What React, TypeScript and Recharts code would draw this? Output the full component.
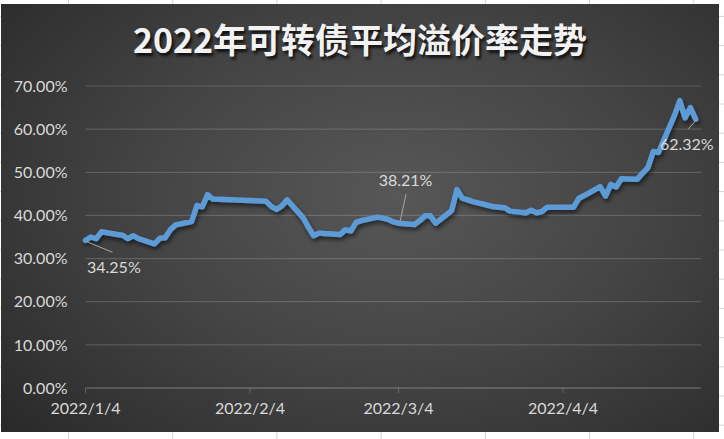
import { LineChart, Line, XAxis, YAxis, CartesianGrid, LabelList } from 'recharts'

// trading days, 2022
const dates = [
  '2022/1/4', '2022/1/5', '2022/1/6', '2022/1/7', '2022/1/10', '2022/1/11', '2022/1/12', '2022/1/13', '2022/1/14',
  '2022/1/17', '2022/1/18', '2022/1/19', '2022/1/20', '2022/1/21', '2022/1/24', '2022/1/25', '2022/1/26', '2022/1/27',
  '2022/1/28', '2022/2/7', '2022/2/8', '2022/2/9', '2022/2/10', '2022/2/11', '2022/2/14', '2022/2/15', '2022/2/16',
  '2022/2/17', '2022/2/18', '2022/2/21', '2022/2/22', '2022/2/23', '2022/2/24', '2022/2/25', '2022/2/28', '2022/3/1',
  '2022/3/2', '2022/3/3', '2022/3/4', '2022/3/7', '2022/3/8', '2022/3/9', '2022/3/10', '2022/3/11', '2022/3/14',
  '2022/3/15', '2022/3/16', '2022/3/17', '2022/3/18', '2022/3/21', '2022/3/22', '2022/3/23', '2022/3/24', '2022/3/25',
  '2022/3/28', '2022/3/29', '2022/3/30', '2022/3/31', '2022/4/1', '2022/4/6', '2022/4/7', '2022/4/8', '2022/4/11',
  '2022/4/12', '2022/4/13', '2022/4/14', '2022/4/15', '2022/4/18', '2022/4/19', '2022/4/20', '2022/4/21', '2022/4/22',
  '2022/4/25', '2022/4/26', '2022/4/27', '2022/4/28', '2022/4/29',
]

// average premium, %
const premium = [
  34.25, 35.0, 34.6, 36.2, 35.6, 35.4, 34.6, 35.3, 34.6,
  33.4, 34.7, 34.8, 36.7, 37.8, 38.6, 42.3, 42.0, 44.8,
  43.8, 43.3, 42.1, 41.4, 42.2, 43.6, 39.5, 37.3, 35.3,
  35.9, 35.8, 35.6, 36.7, 36.4, 38.4, 38.8, 39.6, 39.4,
  39.1, 38.5, 38.21, 37.9, 38.8, 39.9, 39.9, 38.2, 41.1,
  46.0, 44.0, 43.6, 43.2, 42.3, 42.0, 41.9, 41.8, 41.0,
  40.6, 41.2, 40.6, 40.9, 41.9, 41.9, 44.0, 44.6, 46.7,
  44.5, 47.2, 46.6, 48.5, 48.4, 49.8, 51.1, 54.8, 54.6,
  63.2, 66.6, 62.6, 65.0, 62.32,
]

const xTickDates = ['2022/1/4', '2022/2/4', '2022/3/4', '2022/4/4']
const yTicks = [0, 10, 20, 30, 40, 50, 60, 70]
const axisEndDate = '2022/4/30'

const START = Date.UTC(2022, 0, 4)
const toDay = (s: string) => {
  const [y, m, d] = s.split('/').map(Number)
  return Math.round((Date.UTC(y, m - 1, d) - START) / 86400000)
}

const data = dates.map((d, i) => ({ day: toDay(d), date: d, value: premium[i] }))
const xTicks = xTickDates.map(toDay)
const tickLabel: Record<number, string> = {}
xTickDates.forEach((d) => (tickLabel[toDay(d)] = d))

const labelColor = '#d9d9d9'
const leaderColor = '#a6a6a6'
const font = 'Lato, "Noto Sans", sans-serif'

// which points carry a data label, and where the label sits relative to the point
const labelPlacement: Record<string, { dx: number; dy: number; anchor: string; lx1: number; ly1: number; lx2: number; ly2: number }> = {
  '2022/1/4': { dx: 1.5, dy: 33, anchor: 'start', lx1: 1.5, ly1: 1.5, lx2: 27, ly2: 12 },
  '2022/3/4': { dx: 7, dy: -37, anchor: 'middle', lx1: 7.5, ly1: -29, lx2: 1.5, ly2: -1.5 },
  '2022/4/29': { dx: 18, dy: 31, anchor: 'end', lx1: 0.5, ly1: 1, lx2: -7.5, ly2: 10 },
}

function PointLabel(props: any) {
  const { x, y, index } = props
  const row = data[index]
  if (!row) return null
  const p = labelPlacement[row.date]
  if (!p) return null
  return (
    <g>
      <line x1={x + p.lx1} y1={y + p.ly1} x2={x + p.lx2} y2={y + p.ly2} stroke={leaderColor} strokeWidth={1} />
      <text x={x + p.dx} y={y + p.dy} textAnchor={p.anchor} fill={labelColor} fontSize={16} fontFamily={font}>
        {row.value.toFixed(2)}%
      </text>
    </g>
  )
}

const colLines = [68.5, 172.7, 276.9, 381.1, 485.3, 589.5, 693.7]
const rowLines = [16.4, 45.6, 74.8, 104, 133.2, 162.4, 191.6, 220.8, 250, 279.2, 308.4, 337.6, 366.8, 396, 425.2]

export default function App() {
  return (
    <div style={{ position: 'absolute', left: 0, top: 0, width: 724, height: 439, background: '#fff', overflow: 'hidden' }}>
      <svg width={724} height={439} style={{ position: 'absolute', left: 0, top: 0 }}>
        {colLines.map((x) => (
          <line key={'c' + x} x1={x} y1={0} x2={x} y2={439} stroke="#d4d4d4" />
        ))}
        {rowLines.map((y) => (
          <line key={'r' + y} x1={0} y1={y} x2={724} y2={y} stroke="#d4d4d4" />
        ))}
      </svg>
      <div
        style={{
          position: 'absolute',
          left: 1,
          top: 4,
          width: 718,
          height: 428,
          background: 'radial-gradient(ellipse 75% 85% at 55% 45%, #575757 0%, #454545 45%, #333333 80%, #272727 100%)',
        }}
      />
      <div
        style={{
          position: 'absolute',
          left: 1,
          top: 19,
          width: 718,
          textAlign: 'center',
          fontFamily: '"Noto Sans CJK SC", sans-serif',
          fontWeight: 700,
          fontSize: 34,
          lineHeight: '40px',
          color: '#f2f2f2',
          textShadow: '2px 3px 3px rgba(0,0,0,0.75)',
        }}
      >
        2022年可转债平均溢价率走势
      </div>
      <div style={{ position: 'absolute', left: 0, top: 0 }}>
        <LineChart width={724} height={439} data={data} margin={{ top: 86, right: 23, bottom: 21, left: 15.5 }}>
          <defs>
            <filter id="lineShadow" x="-5%" y="-20%" width="110%" height="140%">
              <feDropShadow dx={1.5} dy={3} stdDeviation={2} floodColor="#000" floodOpacity={0.55} />
            </filter>
          </defs>
          <CartesianGrid vertical={false} stroke="rgba(255,255,255,0.16)" strokeWidth={1.2} />
          <XAxis
            type="number"
            dataKey="day"
            domain={[0, toDay(axisEndDate)]}
            ticks={xTicks}
            tickFormatter={(v: number) => tickLabel[v] ?? ''}
            height={30}
            tickSize={5}
            tickMargin={10}
            axisLine={{ stroke: 'rgba(255,255,255,0.2)', strokeWidth: 1.2 }}
            tickLine={{ stroke: 'rgba(255,255,255,0.2)' }}
            tick={{ fill: labelColor, fontSize: 16, fontFamily: font }}
            interval={0}
          />
          <YAxis
            domain={[0, 70]}
            ticks={yTicks}
            tickFormatter={(v: number) => v.toFixed(2) + '%'}
            width={70}
            axisLine={false}
            tickLine={false}
            tickSize={0}
            tickMargin={18}
            tick={{ fill: labelColor, fontSize: 16, fontFamily: font }}
            interval={0}
          />
          <Line
            type="linear"
            dataKey="value"
            stroke="#5b9bd5"
            strokeWidth={5.5}
            strokeLinejoin="round"
            strokeLinecap="round"
            filter="url(#lineShadow)"
            dot={false}
            activeDot={false}
            isAnimationActive={false}
          >
            <LabelList dataKey="value" content={PointLabel} />
          </Line>
        </LineChart>
      </div>
    </div>
  )
}
